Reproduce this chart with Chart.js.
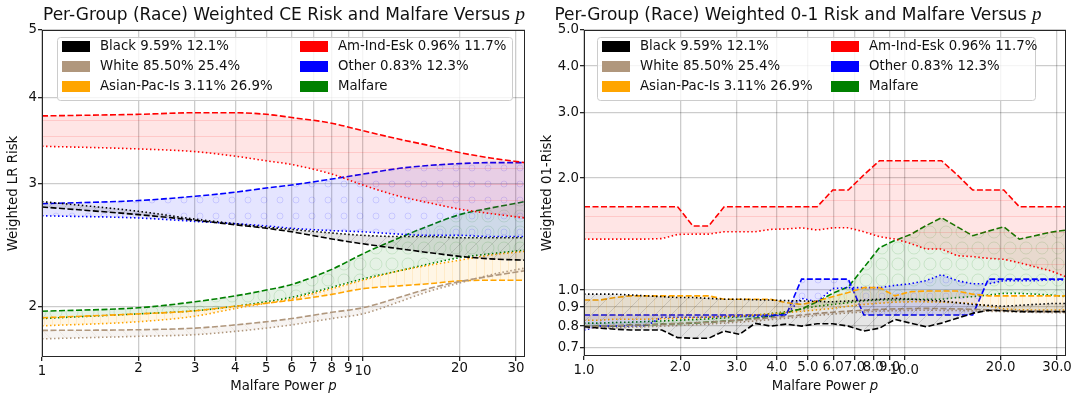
<!DOCTYPE html>
<html>
<head>
<meta charset="utf-8">
<script src="https://cdn.jsdelivr.net/npm/chart.js@4.4.1/dist/chart.umd.min.js"></script>
<style>
  body { margin: 0; background: #fff; }
  #wrap { position: relative; width: 1076px; height: 400px; }
  canvas { position: absolute; top: 0; }
</style>
</head>
<body>
<div id="wrap">
  <canvas id="ce" width="538" height="400" style="left:0"></canvas>
  <canvas id="zo" width="538" height="400" style="left:538px"></canvas>
</div>
<script>
// ---- data ----
const groupNames = ['Black 9.59% 12.1%', 'White 85.50% 25.4%', 'Asian-Pac-Is 3.11% 26.9%',
                    'Am-Ind-Esk 0.96% 11.7%', 'Other 0.83% 12.3%', 'Malfare'];

const xTicks = [1, 2, 3, 4, 5, 6, 7, 8, 9, 10, 20, 30];
const xLabelsCE = ['1', '2', '3', '4', '5', '6', '7', '8', '9', '10', '20', '30'];
const xLabels01 = ['1.0', '2.0', '3.0', '4.0', '5.0', '6.0', '7.0', '8.0', '9.0', '10.0', '20.0', '30.0'];
const yTicksCE = [2, 3, 4, 5];
const yLabelsCE = ['2', '3', '4', '5'];
const yTicks01 = [0.7, 0.8, 0.9, 1, 2, 3, 4, 5];
const yLabels01 = ['0.7', '0.8', '0.9', '1.0', '2.0', '3.0', '4.0', '5.0'];

// left panel (CE risk), malfare power p
const pCE = [1, 2, 3, 4, 5, 6, 8, 10, 13, 16, 20, 25, 32];
const ceBlackDash = [2.78, 2.71, 2.66, 2.62, 2.59, 2.56, 2.50, 2.46, 2.42, 2.39, 2.36, 2.34, 2.33];
const ceBlackDot  = [2.83, 2.74, 2.67, 2.63, 2.60, 2.58, 2.55, 2.53, 2.52, 2.52, 2.51, 2.51, 2.51];
const ceWhiteDash = [1.846, 1.85, 1.86, 1.88, 1.90, 1.92, 1.96, 1.99, 2.06, 2.12, 2.17, 2.21, 2.25];
const ceWhiteDot  = [1.795, 1.81, 1.82, 1.84, 1.86, 1.88, 1.92, 1.95, 2.03, 2.10, 2.16, 2.22, 2.27];
const ceAsianDash = [1.925, 1.95, 1.97, 2.0, 2.02, 2.04, 2.08, 2.12, 2.14, 2.155, 2.175, 2.18, 2.18];
const ceAsianDot  = [1.874, 1.90, 1.935, 1.985, 2.02, 2.05, 2.12, 2.18, 2.25, 2.29, 2.33, 2.37, 2.40];
const ceAmindDash = [3.76, 3.78, 3.80, 3.80, 3.78, 3.74, 3.67, 3.58, 3.48, 3.41, 3.33, 3.27, 3.22];
const ceAmindDot  = [3.40, 3.37, 3.34, 3.29, 3.24, 3.20, 3.10, 2.99, 2.88, 2.82, 2.76, 2.72, 2.68];
const ceOtherDash = [2.81, 2.84, 2.88, 2.92, 2.96, 2.99, 3.05, 3.10, 3.16, 3.19, 3.21, 3.22, 3.22];
const ceOtherDot  = [2.70, 2.68, 2.65, 2.63, 2.61, 2.59, 2.57, 2.56, 2.54, 2.53, 2.53, 2.52, 2.52];
const ceMalfDash  = [1.967, 1.99, 2.03, 2.07, 2.11, 2.15, 2.26, 2.38, 2.51, 2.61, 2.71, 2.77, 2.83];
const ceMalfDot   = [1.92, 1.95, 1.97, 2.0, 2.03, 2.06, 2.13, 2.19, 2.25, 2.30, 2.35, 2.38, 2.41];

// right panel (0-1 risk)
const p01 = [1.00, 1.12, 1.25, 1.40, 1.56, 1.75, 1.96, 2.19, 2.45, 2.74, 3.06, 3.42, 3.83, 4.28, 4.78, 5.35,
             5.98, 6.69, 7.48, 8.37, 9.36, 10.46, 11.70, 13.08, 14.63, 16.36, 18.30, 20.46, 22.88, 25.59, 28.62, 32.00];
const zoBlackDash = [0.797, 0.79, 0.785, 0.781, 0.781, 0.781, 0.745, 0.742, 0.742, 0.776, 0.76, 0.814, 0.80, 0.81, 0.80, 0.812,
                     0.812, 0.80, 0.776, 0.79, 0.834, 0.815, 0.797, 0.815, 0.84, 0.866, 0.882, 0.88, 0.875, 0.875, 0.875, 0.875];
const zoBlackDot  = [0.975, 0.975, 0.975, 0.97, 0.965, 0.96, 0.955, 0.955, 0.95, 0.945, 0.945, 0.942, 0.94, 0.937, 0.935, 0.932,
                     0.93, 0.935, 0.94, 0.945, 0.95, 0.945, 0.94, 0.935, 0.925, 0.915, 0.91, 0.905, 0.91, 0.915, 0.92, 0.92];
const zoWhiteDash = [0.80, 0.80, 0.802, 0.805, 0.807, 0.81, 0.813, 0.817, 0.82, 0.825, 0.83, 0.836, 0.843, 0.85, 0.857, 0.865,
                     0.872, 0.878, 0.883, 0.888, 0.89, 0.892, 0.893, 0.892, 0.89, 0.888, 0.885, 0.882, 0.88, 0.878, 0.876, 0.875];
const zoWhiteDot  = [0.79, 0.79, 0.792, 0.795, 0.797, 0.80, 0.803, 0.806, 0.81, 0.815, 0.82, 0.826, 0.833, 0.84, 0.847, 0.855,
                     0.862, 0.868, 0.873, 0.878, 0.88, 0.882, 0.883, 0.882, 0.881, 0.879, 0.877, 0.875, 0.873, 0.871, 0.87, 0.869];
const zoAsianDash = [0.94, 0.94, 0.955, 0.965, 0.965, 0.965, 0.965, 0.965, 0.965, 0.945, 0.945, 0.945, 0.945, 0.925, 0.915, 0.935,
                     0.96, 0.985, 1.015, 1.015, 0.965, 0.99, 0.994, 0.994, 0.994, 0.975, 0.965, 0.965, 0.965, 0.965, 0.965, 0.965];
const zoAsianDot  = [0.83, 0.83, 0.835, 0.835, 0.835, 0.838, 0.84, 0.842, 0.845, 0.848, 0.852, 0.857, 0.863, 0.87, 0.877, 0.885,
                     0.893, 0.905, 0.915, 0.922, 0.928, 0.93, 0.93, 0.928, 0.925, 0.92, 0.905, 0.89, 0.885, 0.884, 0.884, 0.884];
const zoAmindDash = [1.675, 1.675, 1.675, 1.675, 1.675, 1.675, 1.675, 1.486, 1.486, 1.675, 1.675, 1.675, 1.675, 1.675, 1.675, 1.675,
                     1.857, 1.857, 2.04, 2.226, 2.226, 2.226, 2.226, 2.226, 2.04, 1.857, 1.857, 1.857, 1.675, 1.675, 1.675, 1.675];
const zoAmindDot  = [1.371, 1.371, 1.371, 1.371, 1.371, 1.375, 1.411, 1.414, 1.414, 1.435, 1.435, 1.435, 1.456, 1.46, 1.47, 1.45,
                     1.47, 1.47, 1.435, 1.391, 1.371, 1.335, 1.289, 1.289, 1.237, 1.23, 1.217, 1.21, 1.184, 1.155, 1.127, 1.086];
const zoOtherDash = [0.857, 0.857, 0.857, 0.857, 0.857, 0.857, 0.857, 0.857, 0.857, 0.857, 0.857, 0.857, 0.857, 0.857, 1.07, 1.07,
                     1.07, 1.07, 0.857, 0.857, 0.857, 0.857, 0.857, 0.857, 0.857, 0.857, 1.07, 1.07, 1.07, 1.07, 1.07, 1.07];
const zoOtherDot  = [0.78, 0.80, 0.80, 0.80, 0.80, 0.845, 0.845, 0.845, 0.845, 0.85, 0.85, 0.85, 0.85, 0.86, 0.95, 0.93,
                     1.01, 1.015, 1.015, 1.015, 1.03, 1.04, 1.06, 1.10, 1.06, 1.04, 1.04, 1.06, 1.06, 1.06, 1.065, 1.065];
const zoMalfDash  = [0.80, 0.80, 0.80, 0.805, 0.805, 0.81, 0.812, 0.815, 0.82, 0.825, 0.83, 0.84, 0.85, 0.87, 0.89, 0.93,
                     0.98, 1.02, 1.15, 1.30, 1.36, 1.41, 1.49, 1.565, 1.48, 1.40, 1.44, 1.48, 1.37, 1.40, 1.43, 1.45];
const zoMalfDot   = [0.815, 0.815, 0.818, 0.82, 0.823, 0.826, 0.83, 0.833, 0.837, 0.842, 0.848, 0.855, 0.865, 0.875, 0.89, 0.905,
                     0.915, 0.925, 0.935, 0.94, 0.94, 0.945, 0.945, 0.945, 0.955, 0.96, 0.97, 0.98, 0.98, 0.975, 0.97, 0.96];

// ---- styling ----
const groupRgb = ['0,0,0', '176,151,125', '255,165,0', '255,0,0', '0,0,255', '0,128,0'];
const groupHatch = ['/', '\\', '|', '-', 'o', 'O'];
const FONT = '"DejaVu Sans", sans-serif';
const FS = 13.3;

Chart.defaults.font.family = FONT;
Chart.defaults.font.size = FS;
Chart.defaults.color = '#111';

function hatch(rgb, kind) {
  const c = document.createElement('canvas');
  c.width = 16; c.height = 16;
  const g = c.getContext('2d');
  g.fillStyle = 'rgba(' + rgb + ',0.1)';
  g.fillRect(0, 0, 16, 16);
  g.strokeStyle = 'rgba(' + rgb + ',0.13)';
  g.lineWidth = 1;
  g.beginPath();
  if (kind === '/') {
    g.moveTo(-4, 20); g.lineTo(20, -4);
    g.moveTo(-12, 12); g.lineTo(12, -12);
    g.moveTo(4, 28); g.lineTo(28, 4);
  } else if (kind === '\\') {
    g.moveTo(-4, -4); g.lineTo(20, 20);
    g.moveTo(-12, 4); g.lineTo(12, 28);
    g.moveTo(4, -12); g.lineTo(28, 12);
  } else if (kind === '|') {
    g.moveTo(4.5, 0); g.lineTo(4.5, 16);
    g.moveTo(12.5, 0); g.lineTo(12.5, 16);
  } else if (kind === '-') {
    g.moveTo(0, 8.5); g.lineTo(16, 8.5);
  } else if (kind === 'o') {
    g.arc(8, 8, 3, 0, Math.PI * 2);
  } else if (kind === 'O') {
    g.arc(8, 8, 6, 0, Math.PI * 2);
  }
  g.stroke();
  return g.createPattern(c, 'repeat');
}

function band(xs, hi, lo, i, smooth) {
  const col = 'rgb(' + groupRgb[i] + ')';
  const base = {
    borderColor: col, borderWidth: 1.6, pointRadius: 0,
    cubicInterpolationMode: smooth ? 'monotone' : 'default', tension: 0
  };
  return [
    Object.assign({}, base, {
      label: groupNames[i], data: xs.map((x, k) => ({ x: x, y: hi[k] })),
      borderDash: [6, 2.5], fill: '+1', backgroundColor: hatch(groupRgb[i], groupHatch[i])
    }),
    Object.assign({}, base, {
      label: '', data: xs.map((x, k) => ({ x: x, y: lo[k] })),
      borderDash: [1.5, 2.5], fill: false
    })
  ];
}

function deco(cfg) {
  return {
    id: 'deco',
    afterDraw(chart) {
      const g = chart.ctx, a = chart.chartArea, xs = chart.scales.x;
      g.save();
      // frame
      g.strokeStyle = '#262626'; g.lineWidth = 1;
      g.strokeRect(a.left + 0.5, a.top + 0.5, a.right - a.left - 1, a.bottom - a.top - 1);

      // x tick labels (decades sit a little lower, like the original)
      g.fillStyle = '#111'; g.font = FS + 'px ' + FONT;
      g.textAlign = 'center'; g.textBaseline = 'middle';
      xTicks.forEach((v, k) => {
        const major = (v === 1 || v === 10);
        g.fillText(cfg.xLabels[k], xs.getPixelForValue(v), a.bottom + (major ? 14.5 : 11.5));
      });

      // x axis title
      const t1 = 'Malfare Power ';
      g.font = FS + 'px ' + FONT;
      const w1 = g.measureText(t1).width;
      g.font = 'oblique ' + FS + 'px ' + FONT;
      const w2 = g.measureText('p').width;
      let x0 = (a.left + a.right) / 2 - (w1 + w2) / 2;
      g.textAlign = 'left';
      g.font = FS + 'px ' + FONT; g.fillText(t1, x0, 387);
      g.font = 'oblique ' + FS + 'px ' + FONT; g.fillText('p', x0 + w1, 387);

      // y axis title
      g.save();
      g.translate(cfg.yTitleX, (a.top + a.bottom) / 2);
      g.rotate(-Math.PI / 2);
      g.textAlign = 'center'; g.font = FS + 'px ' + FONT;
      g.fillText(cfg.yTitle, 0, 0);
      g.restore();

      // title
      g.font = '17px ' + FONT;
      const tw = g.measureText(cfg.title).width;
      g.font = 'italic 19px "Liberation Serif", serif';
      const pw = g.measureText('p').width;
      x0 = cfg.titleX - (tw + pw) / 2;
      g.textBaseline = 'alphabetic'; g.textAlign = 'left';
      g.font = '17px ' + FONT; g.fillText(cfg.title, x0, 20);
      g.font = 'italic 19px "Liberation Serif", serif'; g.fillText('p', x0 + tw, 20);

      // legend
      const L = cfg.legend;
      const bx = a.left + L.dx, by = a.top + 7;
      g.fillStyle = 'rgba(255,255,255,0.8)';
      g.strokeStyle = '#cccccc';
      g.beginPath();
      g.roundRect(bx + 0.5, by + 0.5, L.w, 63, 3);
      g.fill(); g.stroke();
      g.font = FS + 'px ' + FONT; g.textBaseline = 'middle';
      groupNames.forEach((name, i) => {
        const col = Math.floor(i / 3), row = i % 3;
        const sx = bx + 5 + col * L.col2;
        const sy = by + 9.5 + row * 20;
        g.fillStyle = 'rgb(' + groupRgb[i] + ')';
        g.fillRect(sx, sy - 5.5, 28, 11);
        g.fillStyle = '#111';
        g.fillText(name, sx + 38, sy + 0.5);
      });
      g.restore();
    }
  };
}

function makeChart(id, xsData, sets, yTicks, yLabels, yMin, yW, padR, xH, smooth, cfg) {
  let datasets = [];
  sets.forEach((s, i) => { datasets = datasets.concat(band(xsData, s[0], s[1], i, smooth)); });
  return new Chart(document.getElementById(id), {
    type: 'line',
    data: { datasets: datasets },
    options: {
      responsive: false, animation: false, devicePixelRatio: 1,
      layout: { padding: { top: 30, right: padR, left: 0, bottom: 0 } },
      plugins: { legend: { display: false }, tooltip: { enabled: false } },
      scales: {
        x: {
          type: 'logarithmic', min: 1, max: 32,
          afterBuildTicks: s => { s.ticks = xTicks.map(v => ({ value: v })); },
          afterFit: s => { s.height = xH; },
          ticks: { display: false },
          grid: { color: 'rgba(0,0,0,0.2)', lineWidth: 1.3, tickLength: 4, tickColor: '#262626' },
          border: { display: false }
        },
        y: {
          type: 'logarithmic', min: yMin, max: 5,
          afterBuildTicks: s => { s.ticks = yTicks.map(v => ({ value: v })); },
          afterFit: s => { s.width = yW; },
          ticks: { padding: 1, autoSkip: false, callback: v => yLabels[yTicks.indexOf(v)] },
          grid: { color: 'rgba(0,0,0,0.2)', lineWidth: 1.3, tickLength: 4, tickColor: '#262626' },
          border: { display: false }
        }
      }
    },
    plugins: [deco(cfg)]
  });
}

makeChart('ce', pCE, [
  [ceBlackDash, ceBlackDot], [ceWhiteDash, ceWhiteDot], [ceAsianDash, ceAsianDot],
  [ceAmindDash, ceAmindDot], [ceOtherDash, ceOtherDot], [ceMalfDash, ceMalfDot]
], yTicksCE, yLabelsCE, 1.69, 42, 13, 43, true, {
  title: 'Per-Group (Race) Weighted CE Risk and Malfare Versus ',
  titleX: 284, yTitle: 'Weighted LR Risk', yTitleX: 14, xLabels: xLabelsCE,
  legend: { dx: 15, w: 455, col2: 238 }
});

makeChart('zo', p01, [
  [zoBlackDash, zoBlackDot], [zoWhiteDash, zoWhiteDot], [zoAsianDash, zoAsianDot],
  [zoAmindDash, zoAmindDot], [zoOtherDash, zoOtherDot], [zoMalfDash, zoMalfDot]
], yTicks01, yLabels01, 0.665, 46, 10, 44, false, {
  title: 'Per-Group (Race) Weighted 0-1 Risk and Malfare Versus ',
  titleX: 260, yTitle: 'Weighted 01-Risk', yTitleX: 10, xLabels: xLabels01,
  legend: { dx: 13, w: 438, col2: 229 }
});
</script>
</body>
</html>
